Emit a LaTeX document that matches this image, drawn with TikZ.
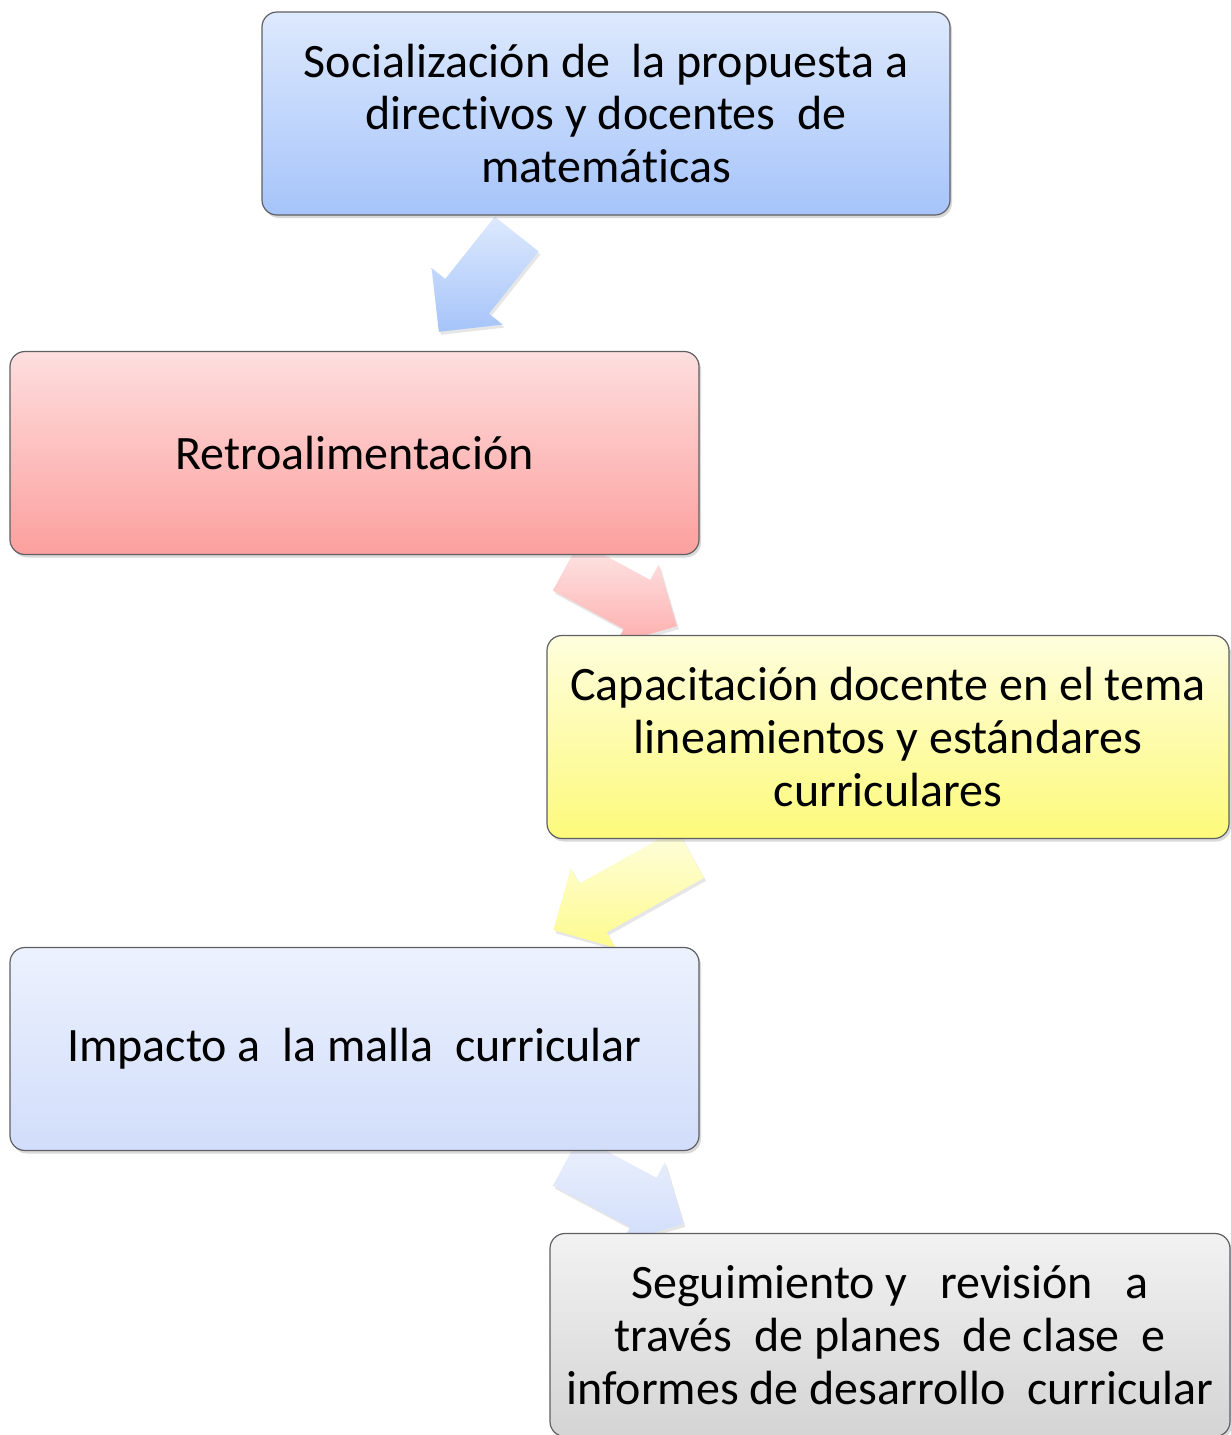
\documentclass[tikz,border=0pt]{standalone}
\usepackage{fontspec}
\setmainfont{Carlito}[Ligatures=NoCommon]
\usepackage{tikz}
\usetikzlibrary{shapes.arrows,shadows}

\definecolor{blueTop}{RGB}{221,233,253}
\definecolor{blueBot}{RGB}{166,196,250}
\definecolor{pinkTop}{RGB}{253,222,222}
\definecolor{pinkBot}{RGB}{252,160,158}
\definecolor{yellTop}{RGB}{254,254,222}
\definecolor{yellBot}{RGB}{253,250,122}
\definecolor{lavTop}{RGB}{236,241,253}
\definecolor{lavBot}{RGB}{209,221,250}
\definecolor{grayTop}{RGB}{242,242,242}
\definecolor{grayBot}{RGB}{212,212,212}
\definecolor{edgeGray}{RGB}{95,95,100}

\tikzset{
  stepbox/.style={rectangle, rounded corners=7.5pt, draw=edgeGray, line width=0.6pt,
    minimum width=344pt, minimum height=101.5pt, align=center,
    font=\fontsize{24}{26.4}\selectfont,
    drop shadow={shadow xshift=1pt, shadow yshift=-1.5pt, opacity=0.3}},
  flecha/.style={single arrow, single arrow head extend=8.75pt, single arrow tip angle=90,
    inner xsep=0pt, inner ysep=13.75pt, text height=0pt, text depth=0pt, anchor=tail,
    drop shadow={shadow xshift=1pt, shadow yshift=-1.5pt, opacity=0.2}}
}

\begin{document}
\begin{tikzpicture}[x=0.5pt, y=-0.5pt]
      \useasboundingbox (0, 0) rectangle (1231, 1435);
      % flechas entre los pasos
      \node (f1) [flecha, rotate=231.5, minimum height=62.5pt,
                  top color=blueTop, bottom color=blueBot] at (516.9, 233.7) {};
      \node (f2) [flecha, rotate=-28.5, minimum height=63pt,
                  top color=pinkTop!70!white, bottom color=pinkBot!85!white] at (565.8, 565.8) {};
      \node (f3) [flecha, rotate=209.2, minimum height=78.5pt,
                  top color=yellTop, bottom color=yellBot!85!white] at (690.8, 853.3) {};
      \node (f4) [flecha, rotate=-28.2, minimum height=66.5pt,
                  top color=lavTop, bottom color=lavBot] at (565.8, 1160.8) {};
      % pasos
      \node (soc) [stepbox, top color=blueTop, bottom color=blueBot] at (606, 113.5)
            {Socialización de\ \ la propuesta a\\directivos y docentes\ \ de\\matemáticas};
      \node (retro) [stepbox, minimum width=344.5pt, top color=pinkTop, bottom color=pinkBot] at (354.5, 453)
            {Retroalimentación};
      \node (capac) [stepbox, minimum width=341pt, top color=yellTop, bottom color=yellBot] at (888, 737)
            {Capacitación docente en el tema\\lineamientos y estándares\\curriculares};
      \node (impacto) [stepbox, minimum width=344.5pt, top color=lavTop, bottom color=lavBot] at (354.5, 1049)
            {Impacto a\ \ la malla\ \ curricular};
      \node (seguim) [stepbox, minimum width=340pt, top color=grayTop, bottom color=grayBot] at (890, 1335)
            {Seguimiento y\ \ \ revisión\ \ \ a\\través\ \ de planes\ \ de clase\ \ e\\informes de desarrollo\ \ curricular};
\end{tikzpicture}
\end{document}
